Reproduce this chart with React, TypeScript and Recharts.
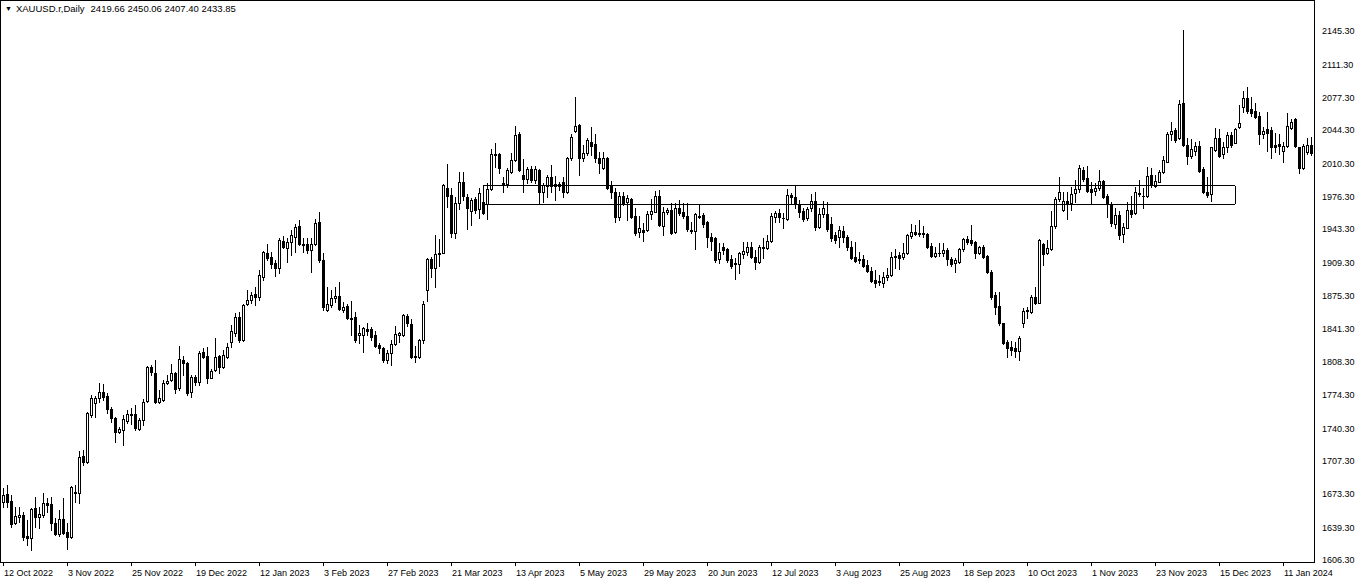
import React from 'react';
import { ComposedChart, Bar, XAxis, YAxis, ReferenceLine } from 'recharts';

const opens = [
  1665.5, 1673.3, 1666.2, 1643.4, 1649.5, 1651.9, 1630.5, 1628.1, 1658.7, 1649.5,
  1651.9, 1663.8, 1663.1, 1644.1, 1632.5, 1647.5, 1634.9, 1629.1, 1675.7, 1674.7,
  1712.1, 1706.3, 1753.9, 1766.0, 1770.9, 1777.7, 1773.3, 1759.7, 1750.5, 1736.9,
  1738.6, 1747.8, 1754.9, 1754.9, 1739.6, 1748.8, 1768.2, 1803.2, 1796.4, 1767.5,
  1769.2, 1786.2, 1789.6, 1796.4, 1781.1, 1810.0, 1806.6, 1777.0, 1792.7, 1787.2,
  1817.8, 1814.1, 1792.0, 1799.8, 1814.1, 1803.2, 1813.4, 1828.0, 1837.6, 1854.2,
  1830.4, 1866.8, 1871.2, 1877.0, 1874.6, 1895.0, 1918.8, 1915.4, 1908.6, 1903.5,
  1931.4, 1924.6, 1930.7, 1935.8, 1947.0, 1928.0, 1928.0, 1922.2, 1928.0, 1950.4,
  1912.0, 1861.0, 1866.1, 1872.9, 1875.6, 1861.0, 1865.4, 1853.2, 1854.2, 1835.5,
  1835.5, 1841.3, 1841.3, 1835.5, 1825.3, 1821.9, 1810.0, 1816.8, 1826.3, 1835.5,
  1835.5, 1854.9, 1846.7, 1814.1, 1812.7, 1830.4, 1881.4, 1912.7, 1903.5, 1917.8,
  1919.5, 1985.1, 1978.3, 1939.2, 1969.8, 1991.9, 1975.9, 1962.0, 1974.2, 1964.0,
  1971.5, 1968.8, 1984.4, 2019.1, 2019.8, 1990.2, 1989.2, 2002.1, 2014.0, 2040.2,
  1998.7, 1994.6, 2004.8, 1993.6, 2003.8, 1981.0, 1987.8, 1997.0, 1989.2, 1989.2,
  1991.2, 1981.0, 2015.7, 2043.6, 2049.7, 2015.7, 2020.8, 2032.7, 2030.3, 2015.7,
  2006.2, 2016.4, 1987.8, 1981.0, 1956.2, 1977.6, 1970.8, 1974.2, 1957.2, 1940.2,
  1942.6, 1942.6, 1958.6, 1961.3, 1977.6, 1947.0, 1960.6, 1963.0, 1940.2, 1964.7,
  1960.6, 1957.2, 1941.6, 1941.6, 1956.2, 1957.9, 1950.4, 1935.8, 1934.1, 1912.7,
  1925.6, 1922.9, 1912.7, 1908.6, 1907.9, 1918.1, 1920.5, 1925.6, 1915.4, 1910.3,
  1925.6, 1923.9, 1931.7, 1955.5, 1960.3, 1955.2, 1953.5, 1978.3, 1975.9, 1969.1,
  1962.3, 1954.5, 1964.7, 1972.5, 1946.0, 1958.9, 1958.9, 1948.7, 1937.5, 1935.1,
  1941.9, 1935.1, 1924.9, 1914.7, 1912.7, 1912.7, 1906.9, 1901.1, 1891.6, 1889.6,
  1888.9, 1894.3, 1896.7, 1914.7, 1917.1, 1914.7, 1919.5, 1936.5, 1940.9, 1939.5,
  1939.9, 1938.5, 1926.3, 1916.1, 1919.5, 1918.8, 1922.2, 1912.7, 1908.6, 1910.3,
  1922.9, 1933.1, 1932.4, 1930.7, 1918.8, 1924.9, 1916.1, 1900.1, 1876.3, 1865.1,
  1847.4, 1828.7, 1822.9, 1821.9, 1819.5, 1847.4, 1859.6, 1859.3, 1874.6, 1868.5,
  1928.3, 1919.5, 1922.9, 1946.7, 1973.9, 1963.0, 1972.5, 1970.5, 1980.0, 1984.4,
  2003.8, 1995.3, 1984.4, 1982.7, 1985.1, 1992.6, 1977.6, 1968.8, 1948.4, 1957.9,
  1938.2, 1945.0, 1963.0, 1959.6, 1979.0, 1976.9, 1977.6, 1998.7, 1987.8, 1991.9,
  2001.4, 2012.3, 2040.2, 2044.6, 2036.1, 2071.8, 2029.3, 2018.4, 2023.5, 2028.3,
  2004.5, 1981.7, 1979.3, 2024.2, 2036.1, 2020.1, 2026.9, 2039.5, 2031.7, 2047.3,
  2067.7, 2076.9, 2065.7, 2064.3, 2058.9, 2040.5, 2045.3, 2044.6, 2029.3, 2030.3,
  2023.5, 2028.3, 2046.3, 2055.5, 2026.9, 2005.5, 2022.5, 2029.3,
];

const highs = [
  1679.1, 1682.5, 1672.3, 1660.4, 1660.4, 1655.3, 1646.8, 1658.7, 1670.6, 1660.4,
  1674.7, 1668.9, 1670.6, 1648.5, 1657.0, 1668.9, 1643.4, 1681.5, 1682.5, 1717.5,
  1718.2, 1757.3, 1774.3, 1773.3, 1786.2, 1785.5, 1776.0, 1762.4, 1752.2, 1742.0,
  1753.9, 1759.0, 1760.7, 1764.1, 1750.5, 1770.2, 1804.2, 1804.9, 1810.0, 1779.4,
  1789.6, 1794.7, 1805.6, 1798.1, 1824.6, 1814.4, 1808.3, 1794.7, 1794.7, 1819.2,
  1821.9, 1823.6, 1800.8, 1832.8, 1815.1, 1820.2, 1827.0, 1845.7, 1858.0, 1859.3,
  1866.8, 1881.4, 1879.7, 1884.8, 1901.8, 1921.2, 1928.0, 1920.5, 1912.0, 1934.8,
  1936.8, 1934.1, 1942.6, 1948.4, 1952.8, 1934.1, 1934.1, 1934.1, 1953.8, 1960.6,
  1918.8, 1884.8, 1881.4, 1884.8, 1889.9, 1869.5, 1866.8, 1870.2, 1859.3, 1845.7,
  1844.0, 1847.4, 1844.0, 1839.9, 1827.7, 1823.6, 1820.2, 1830.4, 1844.7, 1838.9,
  1856.9, 1856.9, 1851.5, 1824.3, 1831.1, 1870.5, 1913.7, 1914.7, 1937.5, 1933.1,
  1989.5, 2009.9, 1985.1, 1976.6, 2002.1, 2002.1, 1979.3, 1974.9, 1976.6, 1985.1,
  1976.6, 1990.2, 2025.2, 2031.0, 2020.8, 1997.0, 2005.5, 2020.8, 2049.0, 2042.9,
  2015.0, 2007.2, 2008.2, 2008.2, 2004.8, 1990.2, 1998.7, 2008.9, 1998.0, 1991.2,
  1997.0, 2017.4, 2040.2, 2078.6, 2050.4, 2029.3, 2036.8, 2048.0, 2040.2, 2021.8,
  2021.8, 2017.4, 1992.6, 1985.8, 1981.7, 1981.7, 1978.3, 1975.6, 1965.4, 1957.2,
  1949.4, 1962.0, 1974.2, 1982.4, 1983.4, 1966.4, 1965.4, 1969.8, 1969.8, 1973.2,
  1969.8, 1969.8, 1951.1, 1959.6, 1968.8, 1959.6, 1951.8, 1939.2, 1935.8, 1929.7,
  1929.7, 1923.9, 1917.1, 1913.7, 1920.5, 1930.7, 1930.7, 1930.7, 1922.2, 1927.3,
  1934.1, 1937.5, 1959.6, 1962.3, 1963.7, 1959.6, 1984.1, 1980.7, 1987.5, 1973.2,
  1964.7, 1965.7, 1979.3, 1981.7, 1964.7, 1972.5, 1971.5, 1955.5, 1940.9, 1946.7,
  1946.7, 1937.5, 1931.7, 1930.7, 1920.5, 1917.1, 1912.0, 1904.5, 1901.8, 1896.7,
  1900.1, 1903.5, 1920.5, 1922.9, 1920.5, 1929.7, 1938.5, 1948.7, 1947.7, 1952.8,
  1946.7, 1939.2, 1929.0, 1925.6, 1929.0, 1929.7, 1923.9, 1915.4, 1913.7, 1923.9,
  1934.1, 1936.5, 1947.7, 1931.7, 1926.3, 1927.3, 1917.1, 1901.8, 1879.7, 1879.7,
  1848.1, 1830.4, 1829.7, 1828.7, 1834.5, 1862.7, 1864.4, 1876.3, 1884.1, 1933.1,
  1929.7, 1932.4, 1962.3, 1975.9, 1997.0, 1981.7, 1981.7, 1986.8, 1993.6, 2008.9,
  2007.2, 2008.2, 1991.9, 1990.2, 2003.8, 1993.6, 1979.0, 1970.8, 1965.4, 1962.0,
  1949.4, 1971.5, 1977.6, 1986.8, 1993.6, 1985.1, 2007.2, 2005.5, 1998.7, 2003.8,
  2018.4, 2042.2, 2052.4, 2047.0, 2075.2, 2146.6, 2036.1, 2035.4, 2032.7, 2033.7,
  2006.5, 1997.0, 2027.6, 2046.3, 2045.3, 2032.7, 2042.9, 2042.9, 2046.3, 2070.1,
  2084.7, 2088.1, 2077.9, 2072.5, 2063.3, 2048.0, 2063.3, 2048.0, 2041.2, 2040.5,
  2032.7, 2062.3, 2055.5, 2056.5, 2027.6, 2030.7, 2036.1, 2037.8,
];

const lows = [
  1660.4, 1660.4, 1640.0, 1642.7, 1645.1, 1626.4, 1621.3, 1616.2, 1640.0, 1638.3,
  1650.2, 1655.3, 1636.6, 1631.5, 1630.5, 1632.5, 1616.9, 1628.1, 1665.5, 1664.5,
  1702.9, 1705.3, 1752.2, 1752.2, 1767.5, 1769.2, 1755.6, 1747.1, 1726.7, 1735.2,
  1723.3, 1745.4, 1744.4, 1738.6, 1738.6, 1743.7, 1767.5, 1794.7, 1765.8, 1765.8,
  1768.2, 1785.2, 1788.6, 1776.0, 1779.4, 1794.7, 1774.3, 1772.6, 1784.5, 1784.5,
  1811.7, 1786.2, 1791.3, 1798.8, 1796.4, 1802.2, 1812.4, 1823.6, 1835.0, 1828.7,
  1829.4, 1866.1, 1867.8, 1866.1, 1871.2, 1891.6, 1912.0, 1903.5, 1896.0, 1898.4,
  1923.9, 1910.3, 1917.1, 1919.8, 1927.3, 1920.5, 1918.8, 1900.1, 1927.3, 1910.3,
  1861.0, 1860.0, 1864.4, 1869.5, 1861.0, 1858.6, 1851.8, 1835.5, 1828.7, 1827.0,
  1818.5, 1835.5, 1830.4, 1822.9, 1816.8, 1808.3, 1806.6, 1804.9, 1825.3, 1828.7,
  1834.5, 1844.7, 1811.7, 1808.3, 1811.7, 1827.7, 1870.5, 1895.0, 1884.8, 1905.9,
  1918.8, 1965.7, 1935.1, 1934.1, 1963.7, 1973.2, 1943.3, 1947.7, 1959.6, 1954.5,
  1958.6, 1953.8, 1983.4, 2007.2, 2000.4, 1981.0, 1986.8, 2000.4, 2013.0, 2002.8,
  1981.0, 1990.2, 1991.2, 1990.2, 1969.8, 1970.8, 1976.6, 1981.7, 1973.2, 1983.4,
  1976.6, 1980.0, 2014.0, 2042.9, 1998.7, 2013.0, 2019.1, 2019.1, 2012.3, 2000.4,
  2004.8, 1984.4, 1975.6, 1951.1, 1952.8, 1968.1, 1952.8, 1955.2, 1937.5, 1935.8,
  1931.4, 1941.6, 1953.8, 1960.6, 1947.0, 1937.5, 1958.6, 1938.2, 1939.2, 1957.9,
  1955.2, 1941.6, 1939.2, 1923.2, 1954.5, 1946.0, 1925.6, 1922.2, 1910.3, 1909.3,
  1918.1, 1910.3, 1903.5, 1892.3, 1898.4, 1913.7, 1917.1, 1913.7, 1902.5, 1908.6,
  1913.7, 1922.9, 1930.7, 1951.1, 1951.1, 1944.3, 1952.8, 1969.8, 1964.7, 1956.2,
  1952.1, 1952.8, 1962.3, 1942.6, 1944.3, 1956.2, 1941.9, 1931.7, 1929.0, 1925.6,
  1930.7, 1922.2, 1912.7, 1910.3, 1908.6, 1904.5, 1900.1, 1889.9, 1884.1, 1886.5,
  1884.1, 1891.6, 1895.7, 1903.5, 1902.5, 1912.7, 1918.1, 1934.1, 1937.5, 1936.5,
  1935.8, 1923.9, 1914.7, 1914.7, 1916.1, 1916.1, 1906.9, 1905.9, 1900.1, 1909.3,
  1921.5, 1928.3, 1927.3, 1913.7, 1918.1, 1913.7, 1898.4, 1871.9, 1856.9, 1845.7,
  1826.3, 1813.4, 1815.1, 1813.4, 1810.0, 1844.0, 1852.5, 1858.3, 1867.1, 1867.8,
  1906.9, 1918.1, 1922.2, 1944.3, 1972.5, 1962.3, 1953.5, 1963.0, 1971.5, 1981.7,
  1992.6, 1981.7, 1968.8, 1978.3, 1983.4, 1975.6, 1956.2, 1947.0, 1944.3, 1933.4,
  1930.7, 1944.3, 1956.2, 1958.6, 1977.6, 1964.7, 1976.6, 1986.8, 1986.8, 1991.2,
  2000.4, 2011.6, 2034.4, 2032.7, 2035.4, 2028.6, 2009.6, 2016.4, 2019.1, 2002.1,
  1980.0, 1976.6, 1972.5, 2023.5, 2016.7, 2015.7, 2022.5, 2027.6, 2031.0, 2046.3,
  2063.3, 2062.3, 2058.9, 2056.5, 2030.3, 2036.1, 2023.5, 2015.7, 2022.5, 2020.1,
  2012.3, 2027.6, 2045.3, 2027.6, 2001.1, 2004.5, 2020.1, 2019.1,
];

const closes = [
  1672.3, 1665.5, 1642.7, 1650.9, 1651.9, 1629.1, 1628.1, 1657.7, 1649.5, 1652.6,
  1664.5, 1662.4, 1644.1, 1632.5, 1647.5, 1633.9, 1629.1, 1680.8, 1674.7, 1711.4,
  1706.3, 1755.6, 1770.9, 1770.9, 1777.7, 1772.6, 1759.7, 1750.5, 1736.9, 1739.6,
  1749.8, 1754.6, 1753.6, 1741.0, 1748.8, 1767.5, 1803.2, 1797.4, 1767.5, 1770.9,
  1786.2, 1788.6, 1796.4, 1780.4, 1810.7, 1806.6, 1776.0, 1793.0, 1787.2, 1816.8,
  1813.4, 1792.0, 1798.8, 1813.4, 1803.2, 1815.1, 1823.6, 1839.6, 1854.2, 1830.4,
  1866.1, 1871.2, 1876.3, 1874.6, 1896.7, 1920.5, 1914.4, 1907.6, 1903.5, 1932.4,
  1925.6, 1930.7, 1937.5, 1946.0, 1928.0, 1927.3, 1922.2, 1928.0, 1949.4, 1912.0,
  1864.4, 1866.8, 1873.6, 1875.6, 1862.0, 1864.4, 1853.2, 1851.8, 1830.4, 1837.2,
  1842.3, 1839.9, 1833.8, 1824.3, 1821.9, 1810.0, 1816.8, 1826.3, 1836.5, 1837.2,
  1855.9, 1847.4, 1812.7, 1812.7, 1830.4, 1867.1, 1913.0, 1903.5, 1917.8, 1918.8,
  1988.5, 1977.3, 1939.2, 1969.8, 1991.9, 1977.3, 1964.7, 1973.2, 1963.0, 1980.0,
  1960.0, 1984.4, 2019.8, 2019.8, 2006.2, 1988.5, 2003.8, 2014.0, 2039.5, 2003.8,
  1994.6, 2004.8, 1993.6, 2004.8, 1981.7, 1988.5, 1997.0, 1987.8, 1987.8, 1987.8,
  1981.7, 2015.7, 2037.8, 2049.0, 2015.7, 2020.8, 2034.4, 2028.6, 2015.7, 2010.6,
  2015.7, 1985.8, 1981.0, 1956.2, 1977.3, 1969.8, 1975.6, 1956.2, 1939.2, 1945.0,
  1940.2, 1958.6, 1962.0, 1977.6, 1947.7, 1960.6, 1963.0, 1939.2, 1964.7, 1959.6,
  1957.2, 1943.6, 1942.6, 1958.6, 1957.2, 1948.4, 1935.8, 1931.4, 1912.0, 1920.5,
  1922.2, 1912.0, 1905.9, 1907.9, 1918.8, 1921.5, 1925.6, 1914.7, 1910.3, 1925.6,
  1923.9, 1931.7, 1956.9, 1960.3, 1955.5, 1954.5, 1978.3, 1975.9, 1969.1, 1961.3,
  1953.5, 1963.7, 1972.5, 1945.3, 1958.9, 1964.7, 1943.3, 1934.1, 1932.4, 1942.6,
  1935.8, 1924.9, 1913.7, 1911.3, 1912.0, 1905.9, 1901.1, 1890.9, 1888.2, 1890.2,
  1894.3, 1896.7, 1914.7, 1916.1, 1913.7, 1919.5, 1937.5, 1940.9, 1938.5, 1938.9,
  1938.5, 1924.9, 1916.1, 1919.5, 1918.8, 1922.2, 1912.7, 1907.9, 1912.0, 1922.9,
  1933.1, 1930.7, 1929.7, 1918.8, 1924.9, 1914.7, 1900.1, 1873.9, 1863.7, 1847.4,
  1827.0, 1821.9, 1820.2, 1819.5, 1832.1, 1860.3, 1860.7, 1873.9, 1867.8, 1932.4,
  1918.1, 1923.9, 1946.7, 1973.9, 1981.7, 1972.5, 1969.8, 1979.3, 1984.4, 2005.5,
  1994.6, 1982.4, 1981.7, 1985.8, 1992.6, 1976.6, 1968.8, 1949.4, 1957.9, 1937.5,
  1946.0, 1963.0, 1958.6, 1981.7, 1980.0, 1977.6, 1998.0, 1989.2, 1992.6, 2002.1,
  2014.0, 2040.2, 2043.6, 2034.4, 2070.8, 2029.3, 2018.4, 2025.2, 2028.3, 2003.1,
  1981.7, 1978.3, 2026.9, 2036.1, 2018.1, 2026.9, 2039.5, 2029.3, 2045.3, 2052.1,
  2076.9, 2064.3, 2062.3, 2057.5, 2040.5, 2043.9, 2041.9, 2026.9, 2026.9, 2028.3,
  2028.3, 2048.7, 2053.1, 2028.3, 2005.5, 2028.3, 2029.3, 2020.8,
];

const xTickIndex = [0, 16, 32, 48, 64, 80, 96, 112, 128, 144, 160, 176, 192, 208, 224, 240, 256, 272, 288, 304, 320];
const xTickLabels = [
  '12 Oct 2022', '3 Nov 2022', '25 Nov 2022', '19 Dec 2022', '12 Jan 2023', '3 Feb 2023',
  '27 Feb 2023', '21 Mar 2023', '13 Apr 2023', '5 May 2023', '29 May 2023', '20 Jun 2023',
  '12 Jul 2023', '3 Aug 2023', '25 Aug 2023', '18 Sep 2023', '10 Oct 2023', '1 Nov 2023',
  '23 Nov 2023', '15 Dec 2023', '11 Jan 2024',
];
const priceTicks = [
  2145.3, 2111.3, 2077.3, 2044.3, 2010.3, 1976.3, 1943.3, 1909.3, 1875.3,
  1841.3, 1808.3, 1774.3, 1740.3, 1707.3, 1673.3, 1639.3, 1606.3,
];
const priceDomain = [1604.0, 2177.2];

const zoneStartBar = 120;
const zoneEndBar = 308;
const zoneTop = 1987.5;
const zoneBottom = 1969.0;

const titleSymbol = 'XAUUSD.r,Daily';
const titleValues = '2419.66 2450.06 2407.40 2433.85';

const FONT = '"Liberation Sans", Arial, sans-serif';

const rows = opens.map((o, i) => ({
  i,
  o,
  h: highs[i],
  l: lows[i],
  c: closes[i],
  range: [lows[i], highs[i]],
}));

function Candle(props: any) {
  const { x, y, width, height, payload } = props;
  if (!payload || x == null || y == null) return null;
  const { o, h, l, c } = payload;
  const cx = Math.round(x + width / 2);
  const top = Math.min(y, y + height);
  const span = Math.abs(height);
  const k = h - l > 0 ? span / (h - l) : 0;
  const py = (v: number) => Math.round(top + (h - v) * k);
  const yH = py(h);
  const yL = py(l);
  const yT = py(Math.max(o, c));
  const yB = py(Math.min(o, c));
  const bull = c > o;
  const bear = c < o;
  return (
    <g>
      <line x1={cx + 0.5} x2={cx + 0.5} y1={yH} y2={yL + 1} stroke="#000" strokeWidth={1} shapeRendering="crispEdges" />
      {bear && (
        <rect x={cx - 1} y={yT} width={3} height={Math.max(yB - yT, 0) + 1} fill="#000" shapeRendering="crispEdges" />
      )}
      {bull && yB - yT >= 1 && (
        <rect x={cx - 0.5} y={yT + 0.5} width={2} height={yB - yT} fill="#fff" stroke="#000" strokeWidth={1} shapeRendering="crispEdges" />
      )}
      {(!bull && !bear) || (bull && yB - yT < 1) ? (
        <line x1={cx - 1} x2={cx + 2} y1={yT + 0.5} y2={yT + 0.5} stroke="#000" strokeWidth={1} shapeRendering="crispEdges" />
      ) : null}
    </g>
  );
}

function DateTick(props: any) {
  const { x, y, payload } = props;
  const idx = xTickIndex.indexOf(Number(payload.value));
  if (idx < 0) return null;
  const px = Math.round(x);
  return (
    <g>
      <line x1={px + 0.5} x2={px + 0.5} y1={y + 1} y2={y + 4} stroke="#000" strokeWidth={1} shapeRendering="crispEdges" />
      <text x={px + 1} y={y + 14} fontSize={9} fontFamily={FONT} fill="#000" textAnchor="start">
        {xTickLabels[idx]}
      </text>
    </g>
  );
}

function PriceTick(props: any) {
  const { x, y, payload } = props;
  return (
    <text x={x + 8} y={y} dy="0.35em" fontSize={9} fontFamily={FONT} fill="#000" textAnchor="start">
      {Number(payload.value).toFixed(2)}
    </text>
  );
}

export default function App() {
  const lineProps = { stroke: '#000', strokeWidth: 1, shapeRendering: 'crispEdges' as const, ifOverflow: 'visible' as const };
  return (
    <div style={{ position: 'absolute', left: 0, top: 0, width: 1362, height: 584, background: '#fff' }}>
      <ComposedChart
        width={1362}
        height={584}
        data={rows}
        margin={{ top: 0, right: 0, bottom: 0, left: 0 }}
        barCategoryGap={0}
      >
        <XAxis
          dataKey="i"
          type="category"
          ticks={xTickIndex}
          interval={0}
          tick={<DateTick />}
          tickLine={false}
          axisLine={false}
          tickSize={0}
          tickMargin={0}
          height={22}
          padding={{ left: 1, right: 1 }}
        />
        <YAxis
          orientation="right"
          type="number"
          domain={priceDomain}
          allowDataOverflow
          ticks={priceTicks}
          interval={0}
          tick={<PriceTick />}
          tickLine={false}
          axisLine={false}
          tickSize={0}
          tickMargin={0}
          width={48}
        />
        <Bar dataKey="range" isAnimationActive={false} shape={(p: any) => <Candle {...p} />} />
        <ReferenceLine segment={[{ x: zoneStartBar, y: zoneTop }, { x: zoneEndBar, y: zoneTop }]} {...lineProps} />
        <ReferenceLine segment={[{ x: zoneStartBar, y: zoneBottom }, { x: zoneEndBar, y: zoneBottom }]} {...lineProps} />
        <ReferenceLine segment={[{ x: zoneStartBar, y: zoneTop }, { x: zoneStartBar, y: zoneBottom }]} {...lineProps} />
        <ReferenceLine segment={[{ x: zoneEndBar, y: zoneTop }, { x: zoneEndBar, y: zoneBottom }]} {...lineProps} />
      </ComposedChart>
      <div
        style={{
          position: 'absolute',
          left: 0,
          top: 0,
          width: 1315,
          height: 563,
          boxSizing: 'border-box',
          border: '1px solid #000',
          pointerEvents: 'none',
        }}
      />
      <div
        style={{
          position: 'absolute',
          left: 5,
          top: 3,
          fontFamily: FONT,
          fontSize: 9.5,
          lineHeight: '12px',
          color: '#000',
          whiteSpace: 'pre',
        }}
      >
        <span style={{ fontSize: 7, verticalAlign: '1px' }}>{'\u25BC'}</span>
        <span style={{ marginLeft: 4 }}>{titleSymbol}</span>
        <span style={{ marginLeft: 6 }}>{titleValues}</span>
      </div>
    </div>
  );
}
